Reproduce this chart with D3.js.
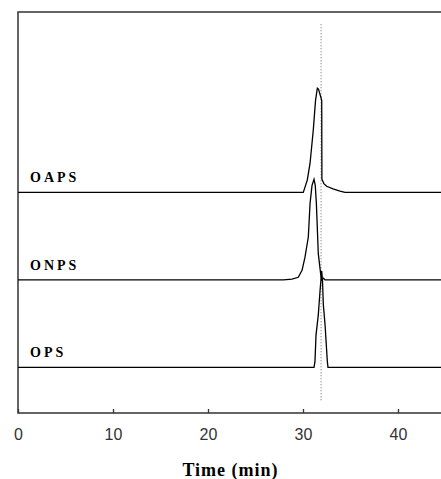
<!DOCTYPE html>
<html>
<head>
<meta charset="utf-8">
<script src="https://cdn.jsdelivr.net/npm/d3@7.9.0/dist/d3.min.js"></script>
<style>
  body { margin: 0; background: #fff; }
  svg { display: block; }
  .trace { fill: none; stroke: #000; stroke-width: 1.3; }
  .lbl { font-family: "Liberation Serif", serif; font-weight: bold; font-size: 14px; letter-spacing: 3px; }
</style>
</head>
<body>
<svg id="chart" width="441" height="479"></svg>
<script>
// trace names, bottom to top
const names = ['OPS', 'ONPS', 'OAPS'];

// [time (min), relative signal]
const opsData = [
  [0, 0], [31.16, 0], [31.26, 0.07], [31.37, 0.37], [31.61, 0.6], [31.79, 0.87],
  [31.97, 1.1], [32.05, 1.0], [32.14, 0.72], [32.32, 0.49], [32.56, 0.07], [32.63, 0], [45, 0]
];
const onpsData = [
  [0, 0], [27.93, 0], [28.84, 0.01], [29.5, 0.03], [29.9, 0.11], [30.21, 0.26],
  [30.56, 0.49], [30.74, 0.87], [30.95, 1.08], [31.16, 1.15], [31.29, 1.08], [31.41, 0.87],
  [31.61, 0.3], [31.86, 0.07], [31.97, 0], [32.16, 0.02], [32.32, 0], [45, 0]
];
const oapsData = [
  [0, 0], [30.03, 0], [30.45, 0.14], [30.74, 0.33], [31.08, 0.71], [31.32, 1.05],
  [31.51, 1.19], [31.63, 1.18], [31.97, 1.05], [31.99, 0.15], [32.2, 0.1],
  [32.49, 0.07], [33.16, 0.04], [33.9, 0.015], [34.42, 0], [45, 0]
];
const traces = [opsData, onpsData, oapsData];

const xTicks = [0, 10, 20, 30, 40];
const refTime = 31.9; // dotted reference line

const svg = d3.select('#chart');
const mLeft = 18, mTop = 12, mBottom = 413, mRight = 441;

const x = d3.scaleLinear().domain([0, 45]).range([mLeft, 445.5]);
const y = d3.scaleLinear().domain([-0.52, 4.06]).range([mBottom, mTop]);

// frame: left, top, bottom
svg.append('path')
  .attr('d', `M${mRight},${mTop}H${mLeft}V${mBottom}H${mRight}`)
  .attr('fill', 'none')
  .attr('stroke', '#333')
  .attr('stroke-width', 1.5);

// x axis with inward ticks
const xAxis = svg.append('g')
  .attr('transform', `translate(0,${mBottom})`)
  .call(d3.axisBottom(x).tickValues(xTicks).tickSize(-4).tickPadding(16));
xAxis.select('.domain').remove();
xAxis.selectAll('line').attr('stroke', '#333').attr('stroke-width', 1.3);
xAxis.selectAll('text')
  .attr('font-family', 'Liberation Sans, sans-serif')
  .attr('font-size', 16)
  .attr('fill', '#333');

svg.append('text')
  .attr('x', (mLeft + mRight) / 2 + 1)
  .attr('y', 476)
  .attr('text-anchor', 'middle')
  .attr('font-family', 'Liberation Serif, serif')
  .attr('font-weight', 'bold')
  .attr('font-size', 18)
  .attr('letter-spacing', 1)
  .text('Time (min)');

// dotted reference line
svg.append('line')
  .attr('x1', x(refTime)).attr('x2', x(refTime))
  .attr('y1', y(3.92)).attr('y2', y(-0.39))
  .attr('stroke', '#666')
  .attr('stroke-width', 1)
  .attr('stroke-dasharray', '1,2');

const line = d3.line();

traces.forEach((pts, i) => {
  svg.append('path')
    .attr('class', 'trace')
    .attr('d', line(pts.map(([t, v]) => [x(t), y(v + i)])));

  svg.append('text')
    .attr('class', 'lbl')
    .attr('x', 30)
    .attr('y', y(i) - 10)
    .text(names[i]);
});
</script>
</body>
</html>
